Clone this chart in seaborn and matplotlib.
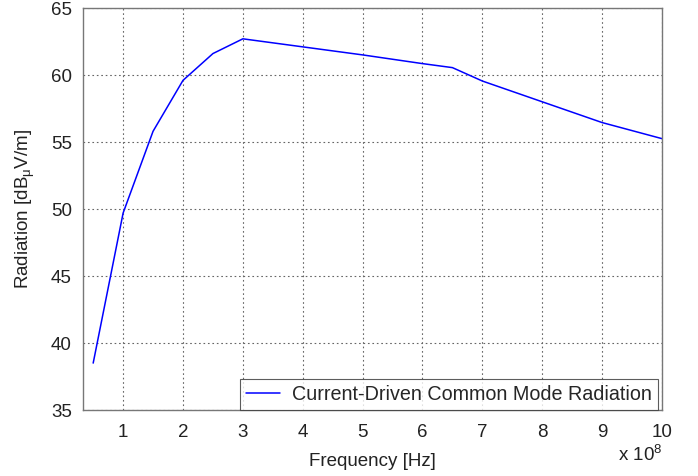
import matplotlib
matplotlib.use("Agg")
import matplotlib.pyplot as plt
import seaborn as sns
import pandas as pd

freq = [0.5, 1.0, 1.5, 2.0, 2.5, 3.0, 4.0, 5.0, 6.0, 6.5, 7.0, 8.0, 9.0, 10.0]
radiation = [38.5, 49.7, 55.8, 59.6, 61.6, 62.7, 62.1, 61.5, 60.85, 60.55, 59.55, 58.0, 56.45, 55.25]
series_name = "Current-Driven Common Mode Radiation"
x_ticks = [1, 2, 3, 4, 5, 6, 7, 8, 9, 10]
y_ticks = [35, 40, 45, 50, 55, 60, 65]

sns.set_theme(style="white")
plt.rcParams["font.family"] = ["Liberation Sans", "DejaVu Sans"]
plt.rcParams["mathtext.fontset"] = "custom"
plt.rcParams["mathtext.rm"] = "Liberation Sans"
plt.rcParams["mathtext.it"] = "Liberation Sans"

df = pd.DataFrame({"f": freq, "r": radiation, "s": series_name})

fig = plt.figure(figsize=(6.98, 4.76), dpi=100)
ax = fig.add_axes([83/698, 1-410/476, (662-83)/698, (410-8)/476])
sns.lineplot(data=df, x="f", y="r", hue="s", palette=["#0000ff"], ax=ax, linewidth=1.1, legend=True)

fs = 13.5
ax.set_xlim(0.33, 10)
ax.set_ylim(35, 65)
ax.set_xticks(x_ticks)
ax.set_yticks(y_ticks)
ax.grid(True, linestyle=(0, (1.5, 2.5)), color="#666666", linewidth=0.8)
for s in ax.spines.values():
    s.set_color("#777777")
    s.set_linewidth(1.0)
ax.tick_params(axis="both", labelsize=fs, colors="#222222", direction="in", length=4)
ax.tick_params(axis="x", pad=10)
ax.tick_params(axis="y", pad=8)
ax.set_xlabel("Frequency [Hz]", fontsize=fs, color="#222222", labelpad=9)
ax.set_ylabel(r"Radiation [dB$_{\mathrm{\mu}}$V/m]", fontsize=fs, color="#222222", labelpad=10)
ax.text(640/698, 1-455/476, r"x 10$^{8}$", transform=fig.transFigure, fontsize=fs, color="#222222",
        ha="center", va="center")

leg = ax.legend(loc="lower right", fontsize=14.2, frameon=True, fancybox=False,
                borderaxespad=0.0, bbox_to_anchor=(1.0 - 4/579, 0.0),
                handlelength=1.75, borderpad=0.3, handletextpad=0.6)
leg.get_frame().set_edgecolor("#333333")
leg.get_frame().set_linewidth(0.8)
leg.set_title(None)

fig.savefig("out.png", dpi=100)
